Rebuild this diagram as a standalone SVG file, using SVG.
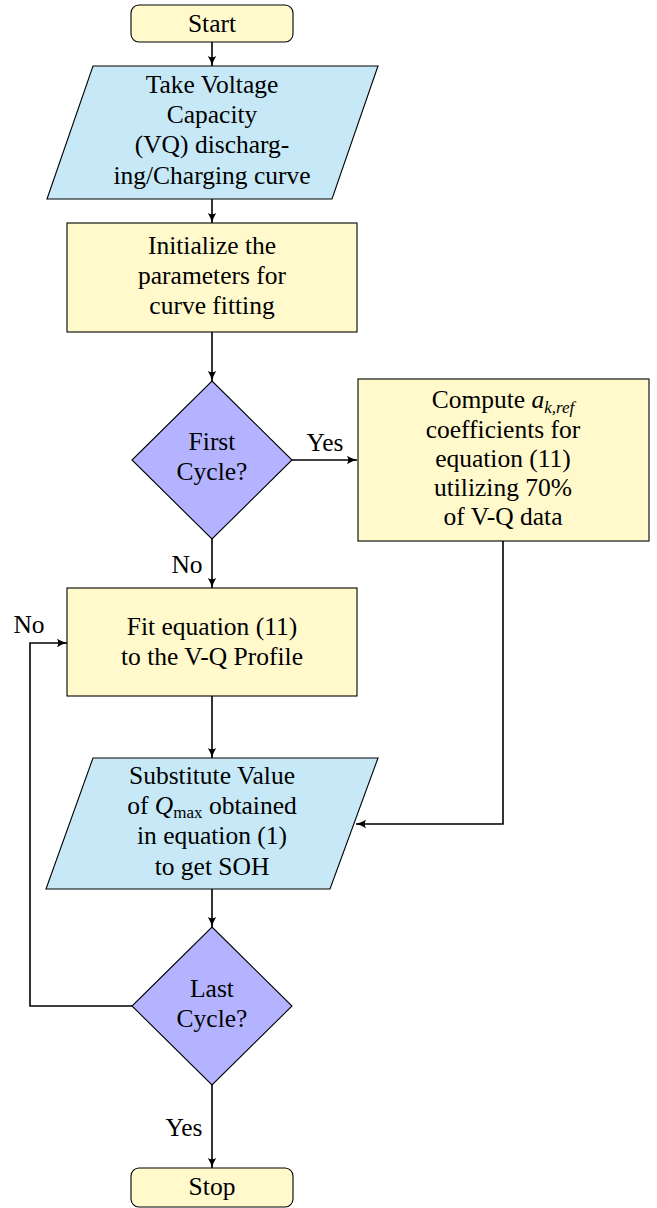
<svg xmlns="http://www.w3.org/2000/svg" width="657" height="1208" viewBox="0 0 657 1208">
<style>
.box{fill:#FFF9CC;stroke:#000;stroke-width:1.1}
.io{fill:#C7E9F7;stroke:#000;stroke-width:1.1}
.dec{fill:#B3B3FF;stroke:#000;stroke-width:1.1}
.conn{fill:none;stroke:#000;stroke-width:1.6}
</style>
<defs>
<marker id="arr" markerUnits="userSpaceOnUse" viewBox="0 0 10 10" refX="10" refY="5" markerWidth="10" markerHeight="10" orient="auto">
<path d="M0,0.8 Q5,4 10,5 Q5,6 0,9.2 Q2.5,5 0,0.8 z" fill="#000"/>
</marker>
</defs>
<rect width="657" height="1208" fill="#fff"/>
<g id="connectors">
<path class="conn" marker-end="url(#arr)" d="M212,42 V66"/>
<path class="conn" marker-end="url(#arr)" d="M212,199 V223"/>
<path class="conn" marker-end="url(#arr)" d="M212,332 V381"/>
<path class="conn" marker-end="url(#arr)" d="M292,460 H357"/>
<path class="conn" marker-end="url(#arr)" d="M212,539 V588"/>
<path class="conn" marker-end="url(#arr)" d="M212,696 V758"/>
<path class="conn" marker-end="url(#arr)" d="M503,541 V824 H356"/>
<path class="conn" marker-end="url(#arr)" d="M212,889 V927"/>
<path class="conn" marker-end="url(#arr)" d="M132,1006 H30 V643 H67"/>
<path class="conn" marker-end="url(#arr)" d="M212,1085 V1168"/>
<text x="325" y="451" font-size="25.5" font-family="'Liberation Serif'" text-anchor="middle">Yes</text>
<text x="187" y="573" font-size="25.5" font-family="'Liberation Serif'" text-anchor="middle">No</text>
<text x="29" y="633" font-size="25.5" font-family="'Liberation Serif'" text-anchor="middle">No</text>
<text x="184" y="1136" font-size="25.5" font-family="'Liberation Serif'" text-anchor="middle">Yes</text>
</g>
<g id="start">
<rect class="box" x="131" y="5" width="162" height="37" rx="8"/>
<text x="212" y="32" font-size="25.5" font-family="'Liberation Serif'" text-anchor="middle">Start</text>
</g>
<g id="take-vq">
<polygon class="io" points="93,66 378,66 332,199 47,199"/>
<text x="212" y="93" font-size="25.5" font-family="'Liberation Serif'" text-anchor="middle">Take Voltage</text>
<text x="212" y="123" font-size="25.5" font-family="'Liberation Serif'" text-anchor="middle">Capacity</text>
<text x="212" y="153" font-size="25.5" font-family="'Liberation Serif'" text-anchor="middle">(VQ) discharg-</text>
<text x="212" y="184" font-size="25.5" font-family="'Liberation Serif'" text-anchor="middle">ing/Charging curve</text>
</g>
<g id="init">
<rect class="box" x="67" y="223" width="290" height="109"/>
<text x="212" y="254" font-size="25.5" font-family="'Liberation Serif'" text-anchor="middle">Initialize the</text>
<text x="212" y="284" font-size="25.5" font-family="'Liberation Serif'" text-anchor="middle">parameters for</text>
<text x="212" y="314" font-size="25.5" font-family="'Liberation Serif'" text-anchor="middle">curve fitting</text>
</g>
<g id="first-cycle">
<polygon class="dec" points="212,381 292,460 212,539 132,460"/>
<text x="212" y="450" font-size="25.5" font-family="'Liberation Serif'" text-anchor="middle">First</text>
<text x="212" y="480" font-size="25.5" font-family="'Liberation Serif'" text-anchor="middle">Cycle?</text>
</g>
<g id="compute">
<rect class="box" x="358" y="379" width="291" height="162"/>
<text x="503" y="408" font-size="25.5" font-family="'Liberation Serif'" text-anchor="middle">Compute <tspan font-style="italic">a</tspan><tspan font-style="italic" font-size="17" dy="5">k,ref</tspan></text>
<text x="503" y="438" font-size="25.5" font-family="'Liberation Serif'" text-anchor="middle">coefficients for</text>
<text x="503" y="467" font-size="25.5" font-family="'Liberation Serif'" text-anchor="middle">equation (11)</text>
<text x="503" y="496" font-size="25.5" font-family="'Liberation Serif'" text-anchor="middle">utilizing 70%</text>
<text x="503" y="525" font-size="25.5" font-family="'Liberation Serif'" text-anchor="middle">of V-Q data</text>
</g>
<g id="fit">
<rect class="box" x="67" y="588" width="290" height="108"/>
<text x="212" y="635" font-size="25.5" font-family="'Liberation Serif'" text-anchor="middle">Fit equation (11)</text>
<text x="212" y="665" font-size="25.5" font-family="'Liberation Serif'" text-anchor="middle">to the V-Q Profile</text>
</g>
<g id="substitute">
<polygon class="io" points="93,758 378,758 330,889 46,889"/>
<text x="212" y="784" font-size="25.5" font-family="'Liberation Serif'" text-anchor="middle">Substitute Value</text>
<text x="212" y="814" font-size="25.5" font-family="'Liberation Serif'" text-anchor="middle">of <tspan font-style="italic">Q</tspan><tspan font-size="17" dy="4">max</tspan><tspan dy="-4"> obtained</tspan></text>
<text x="212" y="844" font-size="25.5" font-family="'Liberation Serif'" text-anchor="middle">in equation (1)</text>
<text x="212" y="875" font-size="25.5" font-family="'Liberation Serif'" text-anchor="middle">to get SOH</text>
</g>
<g id="last-cycle">
<polygon class="dec" points="212,927 292,1006 212,1085 132,1006"/>
<text x="212" y="997" font-size="25.5" font-family="'Liberation Serif'" text-anchor="middle">Last</text>
<text x="212" y="1027" font-size="25.5" font-family="'Liberation Serif'" text-anchor="middle">Cycle?</text>
</g>
<g id="stop">
<rect class="box" x="131" y="1168" width="162" height="39" rx="8"/>
<text x="212" y="1195" font-size="25.5" font-family="'Liberation Serif'" text-anchor="middle">Stop</text>
</g>
</svg>
